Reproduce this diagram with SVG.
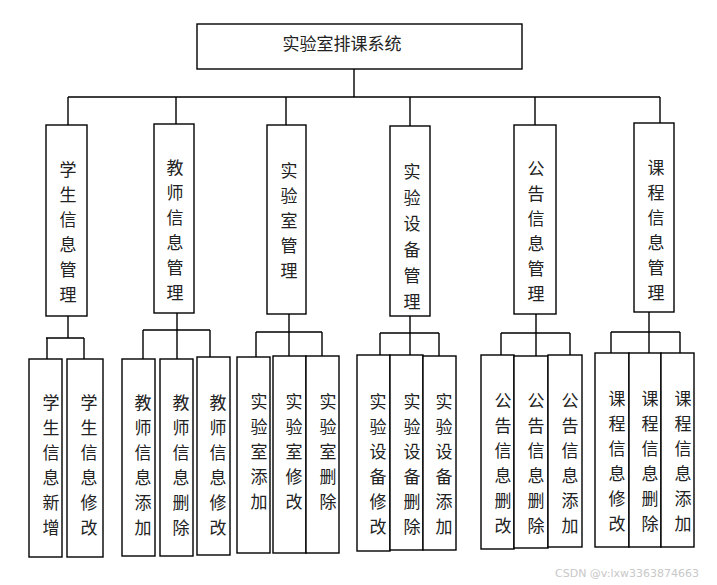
<svg xmlns="http://www.w3.org/2000/svg" width="717" height="585" viewBox="0 0 717 585">
<style>
rect{fill:#fff;stroke:#000;stroke-width:1.4}
#connectors path{fill:none;stroke:#000;stroke-width:1.4}
text{font-family:"Noto Sans CJK SC","Liberation Sans",sans-serif;font-size:17px;fill:#222;text-anchor:middle}
.wm{font-family:"DejaVu Sans","Liberation Sans",sans-serif;font-size:11px;fill:#c8c8c8;text-anchor:start}
</style>
<rect x="0" y="0" width="717" height="585" style="fill:#fff;stroke:none"/>
<g id="connectors">
<path d="M354 69V97M68 97H660M68 97V125M176 97V124M286 97V125M410 97V126M535 97V125M660 97V123"/>
<path d="M68 316V338M46 338H84M47 338V359M84 338V359"/>
<path d="M177 313V330M143 330H210M143 330V359M177 330V359M210 330V357"/>
<path d="M289 314V332M256 332H322M256 332V357M289 332V356M322 332V356"/>
<path d="M410 316V333M380 333H439M380 333V355M410 333V355M439 333V356"/>
<path d="M536 314V333M501 333H570M501 333V355M536 333V356M570 333V355"/>
<path d="M649 312V332M611 332H680M611 332V353M649 332V353M680 332V353"/>
</g>
<g id="root"><rect x="197" y="24" width="325" height="45"/><text x="342" y="50">实验室排课系统</text></g>
<g id="n1"><rect x="46" y="125" width="41" height="191"/><text x="68"><tspan x="68" y="176">学</tspan><tspan x="68" y="201">生</tspan><tspan x="68" y="226">信</tspan><tspan x="68" y="251">息</tspan><tspan x="68" y="276">管</tspan><tspan x="68" y="301">理</tspan></text></g>
<g id="n2"><rect x="154" y="124" width="40" height="189"/><text x="175"><tspan x="175" y="174">教</tspan><tspan x="175" y="199">师</tspan><tspan x="175" y="224">信</tspan><tspan x="175" y="249">息</tspan><tspan x="175" y="274">管</tspan><tspan x="175" y="299">理</tspan></text></g>
<g id="n3"><rect x="267" y="125" width="39" height="189"/><text x="289"><tspan x="289" y="177">实</tspan><tspan x="289" y="202">验</tspan><tspan x="289" y="227">室</tspan><tspan x="289" y="252">管</tspan><tspan x="289" y="277">理</tspan></text></g>
<g id="n4"><rect x="390" y="126" width="40" height="190"/><text x="412"><tspan x="412" y="178">实</tspan><tspan x="412" y="204">验</tspan><tspan x="412" y="230">设</tspan><tspan x="412" y="256">备</tspan><tspan x="412" y="282">管</tspan><tspan x="412" y="308">理</tspan></text></g>
<g id="n5"><rect x="514" y="125" width="42" height="189"/><text x="536"><tspan x="536" y="175">公</tspan><tspan x="536" y="200">告</tspan><tspan x="536" y="225">信</tspan><tspan x="536" y="250">息</tspan><tspan x="536" y="275">管</tspan><tspan x="536" y="300">理</tspan></text></g>
<g id="n6"><rect x="634" y="123" width="40" height="189"/><text x="656"><tspan x="656" y="174">课</tspan><tspan x="656" y="199">程</tspan><tspan x="656" y="224">信</tspan><tspan x="656" y="249">息</tspan><tspan x="656" y="274">管</tspan><tspan x="656" y="299">理</tspan></text></g>
<g id="n1a"><rect x="29" y="359" width="33" height="198"/><text><tspan x="51" y="409">学</tspan><tspan x="51" y="434">生</tspan><tspan x="51" y="459">信</tspan><tspan x="51" y="484">息</tspan><tspan x="51" y="509">新</tspan><tspan x="51" y="534">增</tspan></text></g>
<g id="n1b"><rect x="67" y="359" width="36" height="198"/><text><tspan x="89" y="409">学</tspan><tspan x="89" y="434">生</tspan><tspan x="89" y="459">信</tspan><tspan x="89" y="484">息</tspan><tspan x="89" y="509">修</tspan><tspan x="89" y="534">改</tspan></text></g>
<g id="n2a"><rect x="122" y="359" width="33" height="197"/><text><tspan x="143" y="409">教</tspan><tspan x="143" y="434">师</tspan><tspan x="143" y="459">信</tspan><tspan x="143" y="484">息</tspan><tspan x="143" y="509">添</tspan><tspan x="143" y="534">加</tspan></text></g>
<g id="n2b"><rect x="160" y="359" width="33" height="197"/><text><tspan x="181" y="409">教</tspan><tspan x="181" y="434">师</tspan><tspan x="181" y="459">信</tspan><tspan x="181" y="484">息</tspan><tspan x="181" y="509">删</tspan><tspan x="181" y="534">除</tspan></text></g>
<g id="n2c"><rect x="197" y="357" width="33" height="198"/><text><tspan x="218" y="409">教</tspan><tspan x="218" y="434">师</tspan><tspan x="218" y="459">信</tspan><tspan x="218" y="484">息</tspan><tspan x="218" y="509">修</tspan><tspan x="218" y="534">改</tspan></text></g>
<g id="n3a"><rect x="237" y="357" width="33" height="196"/><text><tspan x="259" y="408">实</tspan><tspan x="259" y="433">验</tspan><tspan x="259" y="458">室</tspan><tspan x="259" y="483">添</tspan><tspan x="259" y="508">加</tspan></text></g>
<g id="n3b"><rect x="273" y="356" width="33" height="197"/><text><tspan x="294" y="408">实</tspan><tspan x="294" y="433">验</tspan><tspan x="294" y="458">室</tspan><tspan x="294" y="483">修</tspan><tspan x="294" y="508">改</tspan></text></g>
<g id="n3c"><rect x="306" y="356" width="33" height="197"/><text><tspan x="328" y="408">实</tspan><tspan x="328" y="433">验</tspan><tspan x="328" y="458">室</tspan><tspan x="328" y="483">删</tspan><tspan x="328" y="508">除</tspan></text></g>
<g id="n4a"><rect x="357" y="355" width="33" height="196"/><text><tspan x="378" y="408">实</tspan><tspan x="378" y="433">验</tspan><tspan x="378" y="458">设</tspan><tspan x="378" y="483">备</tspan><tspan x="378" y="508">修</tspan><tspan x="378" y="533">改</tspan></text></g>
<g id="n4b"><rect x="390" y="355" width="33" height="195"/><text><tspan x="412" y="408">实</tspan><tspan x="412" y="433">验</tspan><tspan x="412" y="458">设</tspan><tspan x="412" y="483">备</tspan><tspan x="412" y="508">删</tspan><tspan x="412" y="533">除</tspan></text></g>
<g id="n4c"><rect x="423" y="356" width="33" height="194"/><text><tspan x="444" y="408">实</tspan><tspan x="444" y="433">验</tspan><tspan x="444" y="458">设</tspan><tspan x="444" y="483">备</tspan><tspan x="444" y="508">添</tspan><tspan x="444" y="533">加</tspan></text></g>
<g id="n5a"><rect x="481" y="355" width="33" height="194"/><text><tspan x="503" y="407">公</tspan><tspan x="503" y="432">告</tspan><tspan x="503" y="457">信</tspan><tspan x="503" y="482">息</tspan><tspan x="503" y="507">删</tspan><tspan x="503" y="532">改</tspan></text></g>
<g id="n5b"><rect x="514" y="356" width="34" height="192"/><text><tspan x="536" y="407">公</tspan><tspan x="536" y="432">告</tspan><tspan x="536" y="457">信</tspan><tspan x="536" y="482">息</tspan><tspan x="536" y="507">删</tspan><tspan x="536" y="532">除</tspan></text></g>
<g id="n5c"><rect x="548" y="355" width="34" height="192"/><text><tspan x="570" y="407">公</tspan><tspan x="570" y="432">告</tspan><tspan x="570" y="457">信</tspan><tspan x="570" y="482">息</tspan><tspan x="570" y="507">添</tspan><tspan x="570" y="532">加</tspan></text></g>
<g id="n6a"><rect x="595" y="353" width="34" height="194"/><text><tspan x="617" y="405">课</tspan><tspan x="617" y="430">程</tspan><tspan x="617" y="455">信</tspan><tspan x="617" y="480">息</tspan><tspan x="617" y="505">修</tspan><tspan x="617" y="530">改</tspan></text></g>
<g id="n6b"><rect x="629" y="353" width="32" height="194"/><text><tspan x="650" y="405">课</tspan><tspan x="650" y="430">程</tspan><tspan x="650" y="455">信</tspan><tspan x="650" y="480">息</tspan><tspan x="650" y="505">删</tspan><tspan x="650" y="530">除</tspan></text></g>
<g id="n6c"><rect x="661" y="353" width="33" height="194"/><text><tspan x="683" y="405">课</tspan><tspan x="683" y="430">程</tspan><tspan x="683" y="455">信</tspan><tspan x="683" y="480">息</tspan><tspan x="683" y="505">添</tspan><tspan x="683" y="530">加</tspan></text></g>
<text class="wm" x="555" y="577">CSDN @v:lxw3363874663</text>
</svg>
